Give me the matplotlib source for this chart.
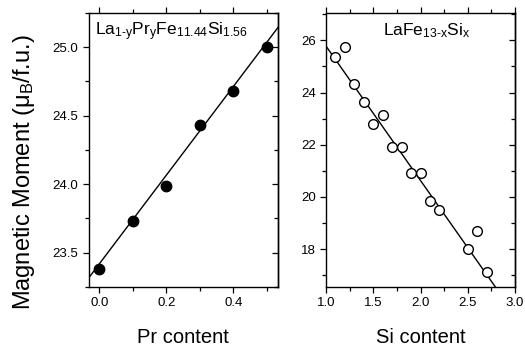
import numpy as np
import matplotlib.pyplot as plt
from matplotlib.ticker import MultipleLocator

plt.rcParams["font.family"] = ["Liberation Sans", "DejaVu Sans"]
plt.rcParams["mathtext.fontset"] = "custom"
plt.rcParams["mathtext.rm"] = "Liberation Sans"
plt.rcParams["mathtext.it"] = "Liberation Sans:italic"

# left panel: La(1-y)Pr(y)Fe11.44Si1.56
pr_content = [0.0, 0.1, 0.2, 0.3, 0.4, 0.5]
pr_moment = [23.38, 23.73, 23.99, 24.43, 24.68, 25.00]
pr_fit = (23.42, 3.23)  # intercept, slope

# right panel: LaFe(13-x)Si(x)
si_content = [1.1, 1.2, 1.3, 1.4, 1.5, 1.6, 1.7, 1.8, 1.9, 2.0, 2.1, 2.2, 2.5, 2.6, 2.7]
si_moment = [25.37, 25.74, 24.34, 23.65, 22.81, 23.14, 21.92, 21.92,
             20.91, 20.91, 19.83, 19.49, 18.00, 18.68, 17.11]
si_fit = (30.93, -5.15)

fig = plt.figure(figsize=(5.25, 3.46), dpi=100)
ax1 = fig.add_axes([0.169, 0.1705, 0.3606, 0.792])
ax2 = fig.add_axes([0.621, 0.1705, 0.360, 0.792])


def style(ax, ymaj, ymin):
    for s in ax.spines.values():
        s.set_linewidth(1.0)
    ax.tick_params(which="both", labelsize=9.5, width=0.9, direction="out",
                   top=True, bottom=True, left=True, right=False)
    ax.tick_params(which="major", length=4)
    ax.tick_params(which="minor", length=3)
    # right-hand ticks point inward
    sec = ax.secondary_yaxis("right")
    sec.yaxis.set_major_locator(MultipleLocator(ymaj))
    sec.yaxis.set_minor_locator(MultipleLocator(ymin))
    sec.tick_params(which="both", direction="in", labelright=False, width=0.9)
    sec.tick_params(which="major", length=4)
    sec.tick_params(which="minor", length=3)
    sec.spines["right"].set_linewidth(1.0)


# left
xx = np.linspace(-0.05, 0.6, 10)
ax1.plot(xx, pr_fit[0] + pr_fit[1] * xx, color="black", lw=1.0)
ax1.plot(pr_content, pr_moment, "o", color="black", ms=7.5)
ax1.set_xlim(-0.032, 0.534)
ax1.set_ylim(23.25, 25.25)
ax1.xaxis.set_major_locator(MultipleLocator(0.2))
ax1.xaxis.set_minor_locator(MultipleLocator(0.1))
ax1.yaxis.set_major_locator(MultipleLocator(0.5))
ax1.yaxis.set_minor_locator(MultipleLocator(0.25))
ax1.yaxis.set_major_formatter(plt.FormatStrFormatter("%.1f"))
ax1.xaxis.set_major_formatter(plt.FormatStrFormatter("%.1f"))
style(ax1, 0.5, 0.25)
ax1.set_xlabel("Pr content", fontsize=14.5)
ax1.xaxis.set_label_coords(0.5, -0.15)
ax1.set_ylabel("Magnetic Moment (μ$_\\mathregular{B}$/f.u.)", fontsize=17)
ax1.yaxis.set_label_coords(-0.275, 0.42)
ax1.text(0.033, 0.918,
         "La$_\\mathregular{1\u2010y}$Pr$_\\mathregular{y}$Fe$_\\mathregular{11.44}$Si$_\\mathregular{1.56}$",
         transform=ax1.transAxes, fontsize=12.5, va="baseline")

# right
xx = np.linspace(0.9, 3.1, 10)
ax2.plot(xx, si_fit[0] + si_fit[1] * xx, color="black", lw=1.0)
ax2.plot(si_content, si_moment, "o", mfc="white", mec="black", mew=1.0, ms=7)
ax2.set_xlim(1.0, 3.0)
ax2.set_ylim(16.55, 27.05)
ax2.xaxis.set_major_locator(MultipleLocator(0.5))
ax2.xaxis.set_minor_locator(MultipleLocator(0.25))
ax2.yaxis.set_major_locator(MultipleLocator(2))
ax2.yaxis.set_minor_locator(MultipleLocator(1))
ax2.xaxis.set_major_formatter(plt.FormatStrFormatter("%.1f"))
style(ax2, 2, 1)
ax2.set_xlabel("Si content", fontsize=14.5)
ax2.xaxis.set_label_coords(0.5, -0.15)
ax2.text(0.30, 0.92,
         "LaFe$_\\mathregular{13\u2010x}$Si$_\\mathregular{x}$",
         transform=ax2.transAxes, fontsize=12.5, va="baseline")

fig.savefig("out.png", dpi=100)
